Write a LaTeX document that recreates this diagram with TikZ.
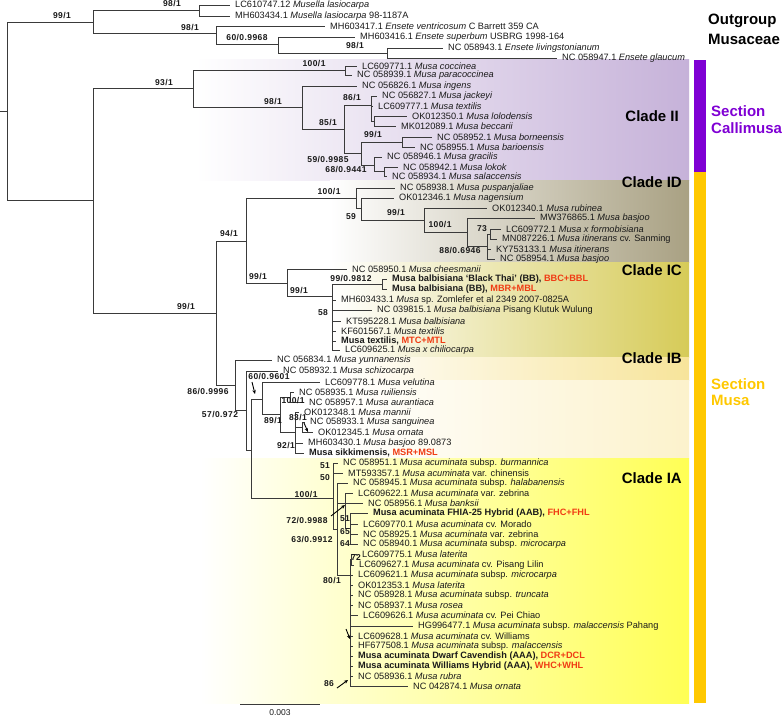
\documentclass[tikz,border=0pt]{standalone}
\usepackage{fontspec}
\setmainfont{Liberation Sans}
\usetikzlibrary{arrows.meta}

\definecolor{branch}{HTML}{3A3A3A}
\definecolor{leaftext}{HTML}{1A1A1A}
\definecolor{hybred}{HTML}{F03C14}
\definecolor{callipurple}{HTML}{7F00D4}
\definecolor{musaorange}{HTML}{FFC800}
\definecolor{shadeII}{HTML}{C6B2D9}
\definecolor{shadeID}{HTML}{A9A183}
\definecolor{shadeIC}{HTML}{D6CB58}
\definecolor{shadeband}{HTML}{F7E49A}
\definecolor{shadeIB}{HTML}{FCF2CC}
\definecolor{shadeIA}{HTML}{FFFF55}

\tikzset{
  leaf/.style={anchor=west, inner xsep=5pt, inner ysep=0pt, text=leaftext,
    font=\fontsize{9.2}{10}\selectfont},
  hyb/.style={leaf, font=\fontsize{9.2}{10}\selectfont\bfseries},
  boot/.style={inner sep=0pt, text=leaftext,
    font=\fontsize{8.5}{9}\selectfont\bfseries\addfontfeature{LetterSpace=5}},
  cladename/.style={inner sep=0pt, font=\fontsize{15}{17}\selectfont\bfseries},
  edge/.style={draw=branch, line width=0.8pt},
  pointer/.style={-{Stealth[length=4pt,width=3.5pt]}, line width=0.9pt, black},
}

\begin{document}
\begin{tikzpicture}[x=1pt,y=-1pt]
\useasboundingbox (0,0) rectangle (784,717);

% clade backgrounds
\shade[left color=white,right color=shadeII] (195,60) rectangle (689,180);
\shade[left color=white,right color=shadeID] (330,180) rectangle (689,262);
\shade[left color=white,right color=shadeIC] (330,262) rectangle (689,357);
\shade[left color=white,right color=shadeband] (330,357) rectangle (689,380);
\shade[left color=white,right color=shadeIB] (330,380) rectangle (689,458);
\shade[left color=white,right color=shadeIA] (200,458) rectangle (689,703);

% section bars
\fill[callipurple] (694,60) rectangle (706,172);
\fill[musaorange] (694,172) rectangle (706,703);

% outgroup leaves
\node[leaf] (lasioA) at (230,5) {LC610747.12 \textit{Musella lasiocarpa}};
\node[leaf] (lasioB) at (230,16) {MH603434.1 \textit{Musella lasiocarpa} 98-1187A};
\node[leaf] (ventri) at (325,26) {MH603417.1 \textit{Ensete ventricosum} C Barrett 359 CA};
\node[leaf] (superb) at (355,37) {MH603416.1 \textit{Ensete superbum} USBRG 1998-164};
\node[leaf] (living) at (443,48) {NC 058943.1 \textit{Ensete livingstonianum}};
\node[leaf] (glauc) at (557,58) {NC 058947.1 \textit{Ensete glaucum}};

% clade II leaves
\node[leaf] (cocc) at (357,66) {LC609771.1 \textit{Musa coccinea}};
\node[leaf] (parac) at (352,75) {NC 058939.1 \textit{Musa paracoccinea}};
\node[leaf] (ingens) at (357,86) {NC 056826.1 \textit{Musa ingens}};
\node[leaf] (jackey) at (377,96) {NC 056827.1 \textit{Musa jackeyi}};
\node[leaf] (textII) at (373,106) {LC609777.1 \textit{Musa textilis}};
\node[leaf] (lolod) at (407,116) {OK012350.1 \textit{Musa lolodensis}};
\node[leaf] (beccar) at (396,126) {MK012089.1 \textit{Musa beccarii}};
\node[leaf] (borne) at (432,137) {NC 058952.1 \textit{Musa borneensis}};
\node[leaf] (barioe) at (415,147) {NC 058955.1 \textit{Musa barioensis}};
\node[leaf] (gracil) at (382,157) {NC 058946.1 \textit{Musa gracilis}};
\node[leaf] (lokok) at (398,167) {NC 058942.1 \textit{Musa lokok}};
\node[leaf] (salacc) at (387,176) {NC 058934.1 \textit{Musa salaccensis}};

% clade ID leaves
\node[leaf] (puspan) at (395,188) {NC 058938.1 \textit{Musa puspanjaliae}};
\node[leaf] (nagens) at (394,198) {OK012346.1 \textit{Musa nagensium}};
\node[leaf] (rubin) at (487,208) {OK012340.1 \textit{Musa rubinea}};
\node[leaf] (basjA) at (535,218) {MW376865.1 \textit{Musa basjoo}};
\node[leaf] (formob) at (501,229) {LC609772.1 \textit{Musa x formobisiana}};
\node[leaf] (itinA) at (497,239) {MN087226.1 \textit{Musa itinerans} cv. Sanming};
\node[leaf] (itinB) at (491,249) {KY753133.1 \textit{Musa itinerans}};
\node[leaf] (basjB) at (495,259) {NC 058954.1 \textit{Musa basjoo}};

% clade IC leaves
\node[leaf] (chees) at (347,269) {NC 058950.1 \textit{Musa cheesmanii}};
\node[hyb] (bthai) at (387,279) {Musa balbisiana ‘Black Thai’ (BB), \textcolor{hybred}{BBC+BBL}};
\node[hyb] (balbBB) at (387,289) {Musa balbisiana (BB), \textcolor{hybred}{MBR+MBL}};
\node[leaf] (zomlef) at (336,300) {MH603433.1 \textit{Musa} sp. Zomlefer et al 2349 2007-0825A};
\node[leaf] (klutuk) at (372,310) {NC 039815.1 \textit{Musa balbisiana} Pisang Klutuk Wulung};
\node[leaf] (balbKT) at (341,321) {KT595228.1 \textit{Musa balbisiana}};
\node[leaf] (textKF) at (336,331) {KF601567.1 \textit{Musa textilis}};
\node[hyb] (textMT) at (336,341) {Musa textilis, \textcolor{hybred}{MTC+MTL}};
\node[leaf] (chilio) at (340,350) {LC609625.1 \textit{Musa x chiliocarpa}};

% unplaced and clade IB leaves
\node[leaf] (yunnan) at (272,360) {NC 056834.1 \textit{Musa yunnanensis}};
\node[leaf] (schizo) at (278,371) {NC 058932.1 \textit{Musa schizocarpa}};
\node[leaf] (velut) at (320,382) {LC609778.1 \textit{Musa velutina}};
\node[leaf] (ruilie) at (294,392) {NC 058935.1 \textit{Musa ruiliensis}};
\node[leaf] (auran) at (304,402) {NC 058957.1 \textit{Musa aurantiaca}};
\node[leaf] (mannii) at (299,412) {OK012348.1 \textit{Musa mannii}};
\node[leaf] (sangu) at (305,422) {NC 058933.1 \textit{Musa sanguinea}};
\node[leaf] (ornIB) at (313,432) {OK012345.1 \textit{Musa ornata}};
\node[leaf] (basjC) at (303,443) {MH603430.1 \textit{Musa basjoo} 89.0873};
\node[hyb] (sikkim) at (304,453) {Musa sikkimensis, \textcolor{hybred}{MSR+MSL}};

% clade IA leaves
\node[leaf] (burman) at (338,463) {NC 058951.1 \textit{Musa acuminata} subsp. \textit{burmannica}};
\node[leaf] (chinen) at (343,473) {MT593357.1 \textit{Musa acuminata} var. chinensis};
\node[leaf] (halab) at (348,483) {NC 058945.1 \textit{Musa acuminata} subsp. \textit{halabanensis}};
\node[leaf] (zebrA) at (353,493) {LC609622.1 \textit{Musa acuminata} var. zebrina};
\node[leaf] (banks) at (363,503) {NC 058956.1 \textit{Musa banksii}};
\node[hyb] (fhia) at (368,513) {Musa acuminata FHIA-25 Hybrid (AAB), \textcolor{hybred}{FHC+FHL}};
\node[leaf] (morado) at (358,524) {LC609770.1 \textit{Musa acuminata} cv. Morado};
\node[leaf] (zebrB) at (358,534) {NC 058925.1 \textit{Musa acuminata} var. zebrina};
\node[leaf] (microA) at (358,544) {NC 058940.1 \textit{Musa acuminata} subsp. \textit{microcarpa}};
\node[leaf] (latA) at (357,554) {LC609775.1 \textit{Musa laterita}};
\node[leaf] (lilin) at (354,565) {LC609627.1 \textit{Musa acuminata} cv. Pisang Lilin};
\node[leaf] (microB) at (353,575) {LC609621.1 \textit{Musa acuminata} subsp. \textit{microcarpa}};
\node[leaf] (latB) at (353,585) {OK012353.1 \textit{Musa laterita}};
\node[leaf] (trunc) at (353,595) {NC 058928.1 \textit{Musa acuminata} subsp. \textit{truncata}};
\node[leaf] (rosea) at (353,605) {NC 058937.1 \textit{Musa rosea}};
\node[leaf] (peichi) at (358,615) {LC609626.1 \textit{Musa acuminata} cv. Pei Chiao};
\node[leaf] (pahang) at (413,626) {HG996477.1 \textit{Musa acuminata} subsp. \textit{malaccensis} Pahang};
\node[leaf] (willA) at (353,636) {LC609628.1 \textit{Musa acuminata} cv. Williams};
\node[leaf] (malac) at (353,646) {HF677508.1 \textit{Musa acuminata} subsp. \textit{malaccensis}};
\node[hyb] (dwarf) at (353,656) {Musa acuminata Dwarf Cavendish (AAA), \textcolor{hybred}{DCR+DCL}};
\node[hyb] (willB) at (353,666) {Musa acuminata Williams Hybrid (AAA), \textcolor{hybred}{WHC+WHL}};
\node[leaf] (rubra) at (353,676) {NC 058936.1 \textit{Musa rubra}};
\node[leaf] (ornIA) at (408,686) {NC 042874.1 \textit{Musa ornata}};

% internal nodes
\coordinate (rootstub) at (0,111);
\coordinate (root) at (7,111);
\coordinate (outg) at (93,22);
\coordinate (musella) at (199,10.5);
\coordinate (enseA) at (216,33);
\coordinate (enseB) at (278,44);
\coordinate (enseC) at (387,53);
\coordinate (ingrp) at (93,200);
\coordinate (cladeII) at (193,88);
\coordinate (coccin) at (345,70.5);
\coordinate (iiB) at (302,107);
\coordinate (iiC) at (344,129);
\coordinate (iiD) at (371,105);
\coordinate (iiE) at (374,121);
\coordinate (iiF) at (361,153);
\coordinate (iiG) at (402,142);
\coordinate (iiH) at (374,165);
\coordinate (iiK) at (384,171.5);
\coordinate (secmusa) at (216,313);
\coordinate (idic) at (246,241);
\coordinate (cladeID) at (356,198);
\coordinate (idB) at (361,208);
\coordinate (idC) at (424,220);
\coordinate (idD) at (467,232);
\coordinate (idE) at (487,246);
\coordinate (idF) at (490,234);
\coordinate (cladeIC) at (287,283);
\coordinate (icB) at (332,296);
\coordinate (icC) at (382,284);
\coordinate (ibia) at (235,385);
\coordinate (ibiaB) at (246,410);
\coordinate (ibiaC) at (251,450);
\coordinate (cladeIB) at (262,399);
\coordinate (ibB) at (280,414);
\coordinate (ibC) at (290,397);
\coordinate (ibD) at (295,432);
\coordinate (ibE) at (302,427);
\coordinate (cladeIA) at (333,498);
\coordinate (iaB) at (337,529);
\coordinate (iaC) at (345,503);
\coordinate (iaD) at (350,528);
\coordinate (iaE) at (350,575);
\coordinate (iaF) at (351,559);

% branches
\draw[edge] (rootstub) -- (root) (root) |- (outg) (root) |- (ingrp);
\draw[edge] (outg) |- (musella) (outg) |- (enseA);
\draw[edge] (musella) |- (lasioA.west) (musella) |- (lasioB.west);
\draw[edge] (enseA) |- (ventri.west) (enseA) |- (enseB);
\draw[edge] (enseB) |- (superb.west) (enseB) |- (enseC);
\draw[edge] (enseC) |- (living.west) (enseC) |- (glauc.west);

\draw[edge] (ingrp) |- (cladeII) (ingrp) |- (secmusa);
\draw[edge] (cladeII) |- (coccin) (cladeII) |- (iiB);
\draw[edge] (coccin) |- (cocc.west) (coccin) |- (parac.west);
\draw[edge] (iiB) |- (ingens.west) (iiB) |- (iiC);
\draw[edge] (iiC) |- (iiD) (iiC) |- (iiF);
\draw[edge] (iiD) |- (jackey.west) (iiD) |- (textII.west) (iiD) |- (iiE);
\draw[edge] (iiE) |- (lolod.west) (iiE) |- (beccar.west);
\draw[edge] (iiF) |- (iiG) (iiF) |- (iiH);
\draw[edge] (iiG) |- (borne.west) (iiG) |- (barioe.west);
\draw[edge] (iiH) |- (gracil.west) (iiH) |- (iiK);
\draw[edge] (iiK) |- (lokok.west) (iiK) |- (salacc.west);

\draw[edge] (secmusa) |- (idic) (secmusa) |- (ibia);
\draw[edge] (idic) |- (cladeID) (idic) |- (cladeIC);
\draw[edge] (cladeID) |- (puspan.west) (cladeID) |- (idB);
\draw[edge] (idB) |- (nagens.west) (idB) |- (idC);
\draw[edge] (idC) |- (rubin.west) (idC) |- (idD);
\draw[edge] (idD) |- (basjA.west) (idD) |- (idE);
\draw[edge] (idE) |- (idF) (idE) |- (itinB.west) (idE) |- (basjB.west);
\draw[edge] (idF) |- (formob.west) (idF) |- (itinA.west);

\draw[edge] (cladeIC) |- (chees.west) (cladeIC) |- (icB);
\draw[edge] (icB) |- (icC) (icB) |- (zomlef.west) (icB) |- (klutuk.west)
  (icB) |- (balbKT.west) (icB) |- (textKF.west) (icB) |- (textMT.west)
  (icB) |- (chilio.west);
\draw[edge] (icC) |- (bthai.west) (icC) |- (balbBB.west);

\draw[edge] (ibia) |- (yunnan.west) (ibia) |- (ibiaB);
\draw[edge] (ibiaB) |- (schizo.west) (ibiaB) |- (ibiaC);
\draw[edge] (ibiaC) |- (cladeIB) (ibiaC) |- (cladeIA);
\draw[edge] (cladeIB) |- (velut.west) (cladeIB) |- (ibB);
\draw[edge] (ibB) |- (ibC) (ibB) |- (ibD);
\draw[edge] (ibC) |- (ruilie.west) (ibC) |- (auran.west);
\draw[edge] (ibD) |- (mannii.west) (ibD) |- (ibE) (ibD) |- (basjC.west)
  (ibD) |- (sikkim.west);
\draw[edge] (ibE) |- (sangu.west) (ibE) |- (ornIB.west);

\draw[edge] (cladeIA) |- (burman.west) (cladeIA) |- (chinen.west) (cladeIA) |- (iaB);
\draw[edge] (iaB) |- (halab.west) (iaB) |- (iaC) (iaB) |- (iaE);
\draw[edge] (iaC) |- (zebrA.west) (iaC) |- (banks.west) (iaC) |- (iaD);
\draw[edge] (iaD) |- (fhia.west) (iaD) |- (morado.west) (iaD) |- (zebrB.west)
  (iaD) |- (microA.west);
\draw[edge] (iaE) |- (iaF) (iaE) |- (microB.west) (iaE) |- (latB.west)
  (iaE) |- (trunc.west) (iaE) |- (rosea.west) (iaE) |- (peichi.west)
  (iaE) |- (pahang.west) (iaE) |- (willA.west) (iaE) |- (malac.west)
  (iaE) |- (dwarf.west) (iaE) |- (willB.west) (iaE) |- (rubra.west)
  (iaE) |- (ornIA.west);
\draw[edge] (iaF) |- (latA.west) (iaF) |- (lilin.west);

% support values
\node[boot] (bsRoot) at (62,16) {99/1};
\node[boot] (bsMus) at (172,4) {98/1};
\node[boot] (bsEnsA) at (190,28) {98/1};
\node[boot] (bsEnsB) at (247,38) {60/0.9968};
\node[boot] (bsEnsC) at (355,46) {98/1};
\node[boot] (bsII) at (164,83) {93/1};
\node[boot] (bsCocc) at (314,64) {100/1};
\node[boot] (bsIIb) at (273,102) {98/1};
\node[boot] (bsIId) at (352,98) {86/1};
\node[boot] (bsIIc) at (328,123) {85/1};
\node[boot] (bsIIg) at (373,135) {99/1};
\node[boot] (bsIIf) at (328,160) {59/0.9985};
\node[boot] (bsIIh) at (346,170) {68/0.9441};
\node[boot] (bsSec) at (186,307) {99/1};
\node[boot] (bsIDIC) at (229,234) {94/1};
\node[boot] (bsID) at (329,192) {100/1};
\node[boot] (bsIDb) at (351,217) {59};
\node[boot] (bsIDc) at (396,213) {99/1};
\node[boot] (bsIDd) at (440,225) {100/1};
\node[boot] (bsIDf) at (482,229) {73};
\node[boot] (bsIDe) at (460,251) {88/0.6946};
\node[boot] (bsIC) at (258,277) {99/1};
\node[boot] (bsICb) at (299,291) {99/1};
\node[boot] (bsICc) at (351,279) {99/0.9812};
\node[boot] (bsICd) at (323,313) {58};
\node[boot] (bsIBIA) at (208,392) {86/0.9996};
\node[boot] (bsIBIAb) at (220,415) {57/0.972};
\node[boot] (bsIB) at (269,377) {60/0.9601};
\node[boot] (bsIBb) at (273,421) {89/1};
\node[boot] (bsIBc) at (293,401) {100/1};
\node[boot] (bsIBe) at (298,418) {83/1};
\node[boot] (bsIBd) at (286,445) {92/1};
\node[boot] (bsIA) at (306,494) {100/1};
\node[boot] (bsIAa) at (325,466) {51};
\node[boot] (bsIAb) at (325,478) {50};
\node[boot] (bsIAc) at (307,520) {72/0.9988};
\node[boot] (bsIAd) at (312,539) {63/0.9912};
\node[boot] (bsIAe) at (345,519) {51};
\node[boot] (bsIAf) at (345,532) {65};
\node[boot] (bsIAg) at (345,544) {64};
\node[boot] (bsIAh) at (356,558) {72};
\node[boot] (bsIAi) at (332,580) {80/1};
\node[boot] (bsIAj) at (329,684) {86};

% pointers to short branches
\coordinate (ptA) at (252,382);
\coordinate (ptAend) at (255,394);
\coordinate (ptB) at (304,423);
\coordinate (ptBend) at (308,432);
\coordinate (ptC) at (331,516);
\coordinate (ptCend) at (345,505);
\coordinate (ptD) at (346,629);
\coordinate (ptDend) at (350,639);
\coordinate (ptE) at (337,688);
\coordinate (ptEend) at (348,680);
\draw[pointer] (ptA) -- (ptAend);
\draw[pointer] (ptB) -- (ptBend);
\draw[pointer] (ptC) -- (ptCend);
\draw[pointer] (ptD) -- (ptDend);
\draw[pointer] (ptE) -- (ptEend);

% clade names
\node[cladename, anchor=east] (nmII) at (679,116) {Clade II};
\node[cladename, anchor=east] (nmID) at (682,182) {Clade ID};
\node[cladename, anchor=east] (nmIC) at (682,270) {Clade IC};
\node[cladename, anchor=east] (nmIB) at (682,358) {Clade IB};
\node[cladename, anchor=east] (nmIA) at (682,478) {Clade IA};
\node[cladename, anchor=west] (nmOutA) at (708,21) {Outgroup};
\node[cladename, anchor=west] (nmOutB) at (708,39) {Musaceae};
\node[cladename, anchor=west, text=callipurple] (nmCalA) at (711,111) {Section};
\node[cladename, anchor=west, text=callipurple] (nmCalB) at (711,128) {Callimusa};
\node[cladename, anchor=west, text=musaorange] (nmMusA) at (711,384) {Section};
\node[cladename, anchor=west, text=musaorange] (nmMusB) at (711,400) {Musa};

% scale bar
\coordinate (sbL) at (240,704);
\coordinate (sbR) at (320,704);
\draw[edge] (sbL) -- (sbR);
\node[inner sep=0pt, font=\fontsize{8.5}{9}\selectfont, text=leaftext] (sbtext) at (280,713) {0.003};
\end{tikzpicture}
\end{document}
